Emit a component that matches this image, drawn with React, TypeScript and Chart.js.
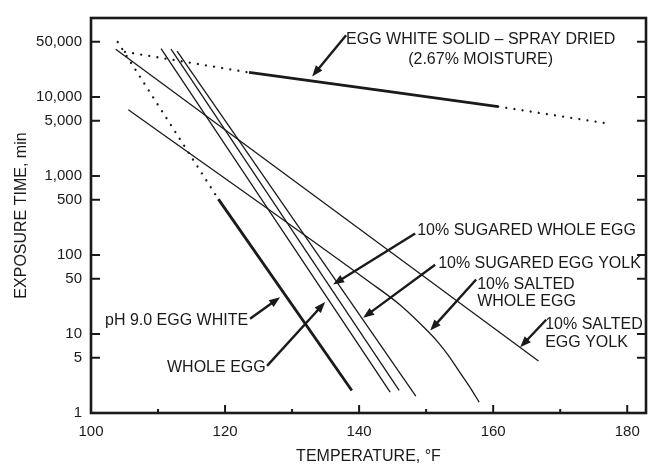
import React, { useEffect, useRef } from "react";
import { Chart, registerables } from "chart.js";

Chart.register(...registerables);

// ---- axis ticks ----
const xMajorTicks = [100, 120, 140, 160, 180];
const xMinorTicks = [110, 130, 150, 170];
const yTicks = [1, 5, 10, 50, 100, 500, 1000, 5000, 10000, 50000];

// ---- series (temperature °F, exposure time min) ----
const sprayDottedLeftX = [105.07, 123.58];
const sprayDottedLeftY = [37260, 20440];
const sprayX = [123.58, 142.1, 160.75];
const sprayY = [20440, 12470, 7577];
const sprayDottedRightX = [160.75, 177.16];
const sprayDottedRightY = [7577, 4620];

const phDottedX = [103.99, 119.0];
const phDottedY = [49630, 510];
const phX = [119.0, 138.91];
const phY = [510, 1.93];

const wholeEggX = [110.45, 144.63];
const wholeEggY = [40970, 1.84];

const sugaredWholeEggX = [111.94, 145.97];
const sugaredWholeEggY = [40270, 1.93];

const sugaredYolkX = [112.84, 148.46];
const sugaredYolkY = [38020, 1.64];

const saltedWholeEggX = [105.57, 141.64, 146.12, 150.3, 151.79, 153.28, 155.07, 156.57, 157.91];
const saltedWholeEggY = [6895, 44.9, 23.3, 10.74, 7.84, 5.41, 3.23, 2.1, 1.37];

const saltedYolkX = [103.69, 166.76];
const saltedYolkY = [40270, 4.55];

// ---- annotations (anchors in data units) ----
const annotations = [
  {
    lines: ["EGG WHITE SOLID \u2013 SPRAY DRIED", "(2.67% MOISTURE)"],
    textX: 158.13,
    textY: [52550, 29650],
    align: "center",
    from: [138.06, 60620],
    to: [132.99, 18240],
  },
  {
    lines: ["10% SUGARED WHOLE EGG"],
    textX: 148.66,
    textY: [204.5],
    align: "left",
    from: [148.36, 187.6],
    to: [136.12, 42.4],
  },
  {
    lines: ["10% SUGARED EGG YOLK"],
    textX: 151.79,
    textY: [77.96],
    align: "left",
    from: [151.34, 75.1],
    to: [140.6, 16.03],
  },
  {
    lines: ["10% SALTED", "WHOLE EGG"],
    textX: 157.61,
    textY: [42.8, 26.07],
    align: "left",
    from: [157.46, 48.9],
    to: [150.6, 11.05],
  },
  {
    lines: ["10% SALTED", "EGG YOLK"],
    textX: 167.76,
    textY: [13.23, 7.84],
    align: "left",
    from: [167.91, 15.14],
    to: [164.03, 6.8],
  },
  {
    lines: ["pH 9.0 EGG WHITE"],
    textX: 102.09,
    textY: [14.59],
    align: "left",
    from: [123.73, 15.58],
    to: [128.21, 29.23],
  },
  {
    lines: ["WHOLE EGG"],
    textX: 111.34,
    textY: [3.76],
    align: "left",
    from: [126.27, 3.95],
    to: [134.93, 25.33],
  },
];

const INK = "#1a1a1a";
const FONT = '"Liberation Sans", Arial, Helvetica, sans-serif';

const toPts = (xs: number[], ys: number[]) => xs.map((x, i) => ({ x, y: ys[i] }));

const thin = (xs: number[], ys: number[], extra: any = {}) => ({
  data: toPts(xs, ys),
  borderColor: INK,
  borderWidth: 1.3,
  pointRadius: 0,
  tension: 0,
  ...extra,
});
const thick = (xs: number[], ys: number[]) => ({
  data: toPts(xs, ys),
  borderColor: INK,
  borderWidth: 2.8,
  pointRadius: 0,
  tension: 0,
});
const dotted = (xs: number[], ys: number[]) => ({
  data: toPts(xs, ys),
  borderColor: INK,
  borderWidth: 2.3,
  borderDash: [0.01, 8.2],
  borderCapStyle: "round",
  pointRadius: 0,
  tension: 0,
});

function drawArrow(ctx: CanvasRenderingContext2D, x1: number, y1: number, x2: number, y2: number) {
  const dx = x2 - x1;
  const dy = y2 - y1;
  const len = Math.hypot(dx, dy);
  const ux = dx / len;
  const uy = dy / len;
  const head = 11;
  const half = 4.2;
  const bx = x2 - ux * head;
  const by = y2 - uy * head;
  ctx.lineWidth = 2.4;
  ctx.beginPath();
  ctx.moveTo(x1, y1);
  ctx.lineTo(bx + ux * 1, by + uy * 1);
  ctx.stroke();
  ctx.beginPath();
  ctx.moveTo(x2, y2);
  ctx.lineTo(bx - uy * half, by + ux * half);
  ctx.lineTo(bx + uy * half, by - ux * half);
  ctx.closePath();
  ctx.fill();
}

const framePlugin = {
  id: "frameTicks",
  afterDatasetsDraw(chart: any) {
    const { ctx, chartArea: a, scales } = chart;
    const xs = scales.x;
    const ys = scales.y;
    ctx.save();
    ctx.strokeStyle = INK;
    ctx.lineWidth = 2.6;
    ctx.strokeRect(a.left, a.top, a.right - a.left, a.bottom - a.top);
    ctx.lineWidth = 2;
    ctx.beginPath();
    yTicks.forEach((v) => {
      const py = ys.getPixelForValue(v);
      ctx.moveTo(a.left, py);
      ctx.lineTo(a.left + 9, py);
      ctx.moveTo(a.right, py);
      ctx.lineTo(a.right - 9, py);
    });
    xMajorTicks.forEach((v) => {
      const px = xs.getPixelForValue(v);
      ctx.moveTo(px, a.bottom);
      ctx.lineTo(px, a.bottom - 8);
    });
    xMinorTicks.forEach((v) => {
      const px = xs.getPixelForValue(v);
      ctx.moveTo(px, a.bottom);
      ctx.lineTo(px, a.bottom - 4);
    });
    ctx.stroke();
    ctx.restore();
  },
};

const annotationPlugin = {
  id: "labelsArrows",
  afterDraw(chart: any) {
    const { ctx, scales } = chart;
    const xs = scales.x;
    const ys = scales.y;
    ctx.save();
    ctx.fillStyle = INK;
    ctx.strokeStyle = INK;
    ctx.font = `16px ${FONT}`;
    ctx.textBaseline = "middle";
    annotations.forEach((an) => {
      ctx.textAlign = an.align as CanvasTextAlign;
      const tx = xs.getPixelForValue(an.textX);
      an.lines.forEach((t, i) => {
        ctx.fillText(t, tx, ys.getPixelForValue(an.textY[i]));
      });
      drawArrow(
        ctx,
        xs.getPixelForValue(an.from[0]),
        ys.getPixelForValue(an.from[1]),
        xs.getPixelForValue(an.to[0]),
        ys.getPixelForValue(an.to[1])
      );
    });
    ctx.restore();
  },
};

export default function App() {
  const ref = useRef<HTMLCanvasElement | null>(null);

  useEffect(() => {
    if (!ref.current) return;
    const chart = new Chart(ref.current, {
      type: "line",
      data: {
        datasets: [
          dotted(sprayDottedLeftX, sprayDottedLeftY),
          thick(sprayX, sprayY),
          dotted(sprayDottedRightX, sprayDottedRightY),
          dotted(phDottedX, phDottedY),
          thick(phX, phY),
          thin(wholeEggX, wholeEggY),
          thin(sugaredWholeEggX, sugaredWholeEggY),
          thin(sugaredYolkX, sugaredYolkY),
          thin(saltedWholeEggX, saltedWholeEggY, { cubicInterpolationMode: "monotone" }),
          thin(saltedYolkX, saltedYolkY),
        ] as any,
      },
      options: {
        animation: false,
        responsive: false,
        events: [],
        layout: { padding: { top: 10, right: 11, left: 0, bottom: 0 } },
        plugins: {
          legend: { display: false },
          tooltip: { enabled: false },
        },
        scales: {
          x: {
            type: "linear",
            min: 100,
            max: 182.8,
            afterBuildTicks: (s: any) => {
              s.ticks = [...xMajorTicks, ...xMinorTicks]
                .sort((a, b) => a - b)
                .map((v) => ({ value: v }));
            },
            afterFit: (s: any) => {
              s.height = 53;
            },
            ticks: {
              autoSkip: false,
              maxRotation: 0,
              padding: 10,
              color: INK,
              font: { family: FONT, size: 15 },
              callback: (v: any) => (xMajorTicks.includes(Number(v)) ? String(v) : ""),
            },
            grid: { display: false, drawTicks: false },
            border: { display: false },
            title: {
              display: true,
              text: "TEMPERATURE, \u00B0F",
              color: INK,
              font: { family: FONT, size: 16 },
              padding: { top: 0, bottom: 0 },
            },
          },
          y: {
            type: "logarithmic",
            min: 1,
            max: 100000,
            afterBuildTicks: (s: any) => {
              s.ticks = yTicks.map((v) => ({ value: v }));
            },
            afterFit: (s: any) => {
              s.width = 91;
            },
            ticks: {
              autoSkip: false,
              padding: 9,
              color: INK,
              font: { family: FONT, size: 15 },
              callback: (v: any) => Number(v).toLocaleString("en-US"),
            },
            grid: { display: false, drawTicks: false },
            border: { display: false },
            title: {
              display: true,
              text: "EXPOSURE TIME, min",
              color: INK,
              font: { family: FONT, size: 16 },
              padding: { top: 12, bottom: 0 },
            },
          },
        },
      },
      plugins: [framePlugin, annotationPlugin],
    });
    return () => chart.destroy();
  }, []);

  return (
    <div style={{ position: "fixed", left: 0, top: 0, width: 657, height: 466, background: "#fff" }}>
      <canvas ref={ref} width={657} height={466} style={{ display: "block" }} />
    </div>
  );
}
